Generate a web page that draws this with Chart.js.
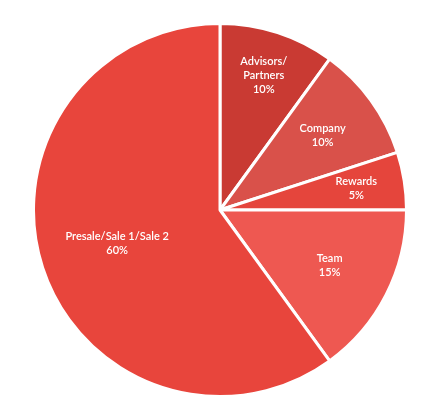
<!DOCTYPE html>
<html>
<head>
<meta charset="utf-8">
<script src="https://cdn.jsdelivr.net/npm/chart.js@4"></script>
<style>
  html, body { margin: 0; padding: 0; background: #fff; }
  #wrap { width: 440px; height: 401px; }
</style>
</head>
<body>
<div id="wrap"><canvas id="pieChart"></canvas></div>
<script>
var categories = [["Advisors/", "Partners"], ["Company"], ["Rewards"], ["Team"], ["Presale/Sale 1/Sale 2"]];
var shares = [10, 10, 5, 15, 60];
var colors = ["#c93a33", "#d9514a", "#e5453c", "#ee5851", "#e8453c"];

// how far out each label sits, as a share of the radius
var labelRadius = [0.76, 0.68, 0.74, 0.66, 0.58];

var sliceLabels = {
    id: "sliceLabels",
    afterDatasetsDraw: function (chart) {
        var ctx = chart.ctx;
        var meta = chart.getDatasetMeta(0);
        ctx.save();
        ctx.fillStyle = "#fff";
        ctx.textAlign = "center";
        ctx.textBaseline = "middle";
        ctx.font = "600 11px Lato, 'Open Sans', sans-serif";
        meta.data.forEach(function (arc, i) {
            var mid = (arc.startAngle + arc.endAngle) / 2;
            var r = arc.outerRadius * labelRadius[i];
            var x = arc.x + Math.cos(mid) * r;
            var y = arc.y + Math.sin(mid) * r;
            var lines = categories[i].concat([shares[i] + "%"]);
            var lh = 14;
            var top = y - (lines.length - 1) * lh / 2;
            lines.forEach(function (t, k) {
                ctx.fillText(t, x, top + k * lh);
            });
        });
        ctx.restore();
    }
};

var ctx = document.getElementById("pieChart").getContext("2d");
new Chart(ctx, {
    type: "pie",
    data: {
        labels: categories,
        datasets: [{
            data: shares,
            backgroundColor: colors,
            borderColor: "#fff",
            borderWidth: 3
        }]
    },
    options: {
        responsive: true,
        maintainAspectRatio: false,
        animation: false,
        layout: { padding: { top: 22, bottom: 3, left: 32, right: 32 } },
        plugins: {
            legend: { display: false },
            tooltip: { enabled: false }
        }
    },
    plugins: [sliceLabels]
});
</script>
</body>
</html>
